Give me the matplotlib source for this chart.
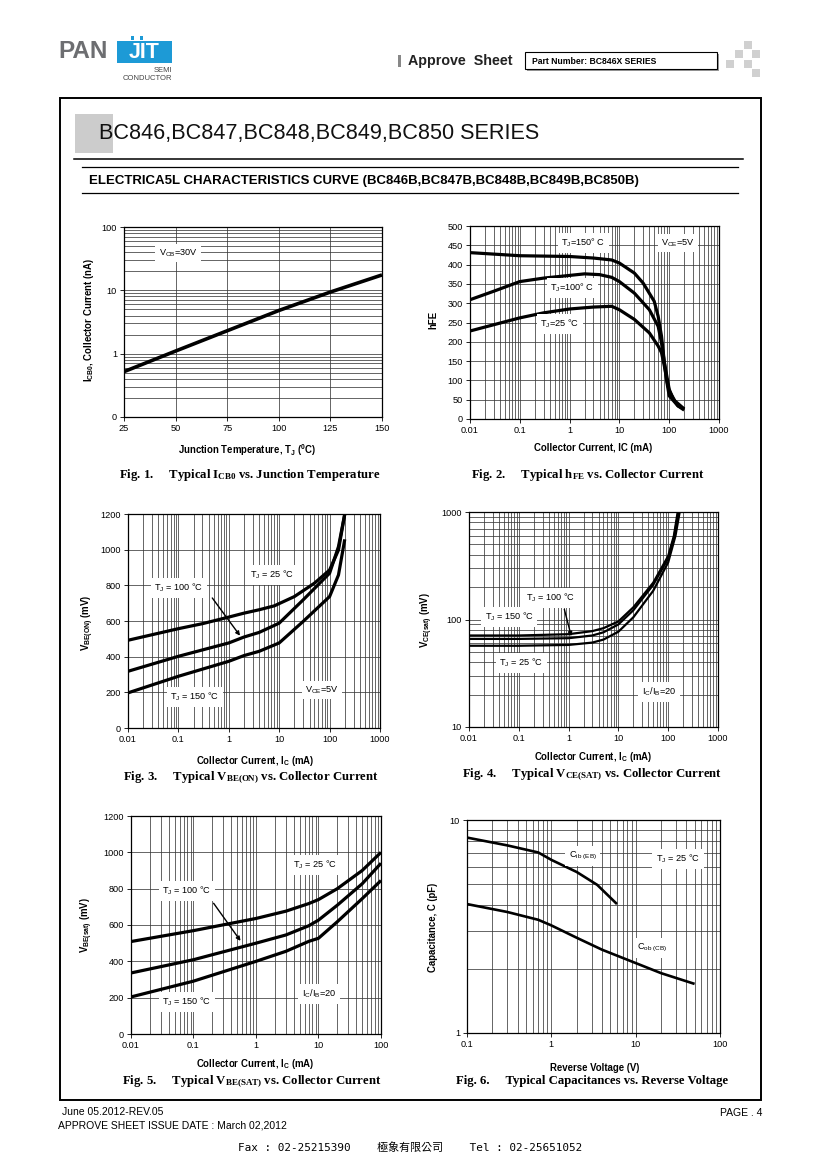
import numpy as np
import matplotlib
matplotlib.use('Agg')
import matplotlib.pyplot as plt
from matplotlib.patches import Rectangle
from matplotlib.lines import Line2D
from matplotlib.ticker import LogLocator, FixedLocator, FixedFormatter, NullFormatter

plt.rcParams['font.family'] = ['Liberation Sans', 'DejaVu Sans']
plt.rcParams['mathtext.default'] = 'regular'

# ---------------- data ----------------
# Fig 1: ICBO vs junction temperature
fig1_temp = [25, 50, 75, 100, 125, 150]
fig1_icbo = [0.52, 1.1, 2.3, 4.8, 9.4, 17.5]
fig1_xticks = [25, 50, 75, 100, 125, 150]
fig1_yticks = [0.1, 1, 10, 100]
fig1_ylabels = ['0', '1', '10', '100']

# Fig 2: hFE vs collector current
fig2_ic_150 = [0.01, 0.1, 1, 3, 7, 10, 20, 30, 50, 60, 70, 80, 100, 120, 150, 200]
fig2_hfe_150 = [431, 423, 421, 417, 412, 404, 378, 352, 305, 266, 215, 146, 77, 52, 34, 23]
fig2_ic_100 = [0.01, 0.03, 0.1, 0.3, 1, 2, 4, 7, 10, 20, 40, 60, 70, 80, 90, 100, 150, 200]
fig2_hfe_100 = [309, 331, 356, 365, 372, 376, 374, 367, 356, 326, 283, 240, 198, 146, 95, 60, 34, 26]
fig2_ic_25 = [0.01, 0.1, 0.3, 1, 3, 7, 10, 20, 40, 60, 70, 80, 90, 100, 130, 200]
fig2_hfe_25 = [228, 262, 275, 285, 290, 292, 283, 258, 223, 189, 172, 137, 99, 73, 47, 26]
fig2_yticks = [0, 50, 100, 150, 200, 250, 300, 350, 400, 450, 500]

# Fig 3: VBE(on) vs collector current
fig3_ic = [0.01, 0.1, 0.3, 1, 2, 4, 8, 20, 50, 100, 150, 200]
fig3_vbe_25 = [492, 557, 585, 622, 644, 663, 685, 737, 812, 886, 998, 1200]
fig3_ic_100 = [0.01, 0.1, 1, 2, 4, 10, 30, 100, 150, 200]
fig3_vbe_100 = [318, 402, 477, 510, 536, 588, 719, 868, 1017, 1200]
fig3_ic_150 = [0.01, 0.1, 1, 2, 4, 10, 30, 100, 150, 200]
fig3_vbe_150 = [197, 290, 374, 406, 430, 477, 598, 737, 858, 1058]
lin_ticks_1200 = [0, 200, 400, 600, 800, 1000, 1200]

# Fig 4: VCE(sat) vs collector current
fig4_ic_top = [0.01, 0.1, 1, 3, 5, 10, 20, 50, 100, 130, 155]
fig4_v_top = [71, 71, 73, 78, 83, 96, 130, 220, 390, 600, 1000]
fig4_ic_mid = [0.01, 0.1, 1, 3, 5, 10, 20, 50, 100, 130, 160]
fig4_v_mid = [66, 66, 67, 71, 76, 90, 122, 210, 370, 570, 1000]
fig4_ic_bot = [0.01, 0.1, 1, 3, 5, 10, 20, 50, 100, 140, 170]
fig4_v_bot = [57, 57, 58, 61, 65, 77, 105, 185, 340, 600, 1000]

# Fig 5: VBE(sat) vs collector current
fig5_ic = [0.01, 0.1, 1, 3, 7, 10, 20, 50, 100]
fig5_v_25 = [509, 569, 636, 676, 718, 740, 800, 900, 1000]
fig5_v_100 = [336, 409, 500, 545, 596, 627, 709, 827, 940]
fig5_v_150 = [204, 291, 400, 455, 510, 527, 618, 745, 845]

# Fig 6: capacitances vs reverse voltage
fig6_vr_ib = [0.1, 0.3, 0.7, 1, 2, 3.5, 6]
fig6_c_ib = [8.27, 7.6, 7.04, 6.5, 5.7, 4.96, 4.03]
fig6_vr_ob = [0.1, 0.3, 0.7, 1, 2, 4, 10, 20, 50]
fig6_c_ob = [4.03, 3.7, 3.4, 3.2, 2.8, 2.46, 2.13, 1.91, 1.70]

log_labels_5dec = ['0.01', '0.1', '1', '10', '100', '1000']
log_ticks_5dec = [0.01, 0.1, 1, 10, 100, 1000]

# ---------------- layout helpers ----------------
W, H = 820, 1160
fig = plt.figure(figsize=(W / 100, H / 100), dpi=100)
fig.patch.set_facecolor('white')


def fx(x):
    return x / W


def fy(y):
    return 1 - y / H


def add_ax(x0, y0, x1, y1):
    return fig.add_axes([fx(x0), fy(y1), (x1 - x0) / W, (y1 - y0) / H])


def ptext(x, y, s, **kw):
    return fig.text(fx(x), fy(y), s, **kw)


def pline(x0, x1, y0, y1, **kw):
    fig.add_artist(Line2D([fx(x0), fx(x1)], [fy(y0), fy(y1)],
                          transform=fig.transFigure, **kw))


def prect(x0, y0, x1, y1, **kw):
    r = Rectangle((fx(x0), fy(y1)), (x1 - x0) / W, (y1 - y0) / H,
                  transform=fig.transFigure, **kw)
    fig.add_artist(r)
    return r


GRID = dict(color='#3a3a3a', linewidth=0.55)


def style(ax):
    for sp in ax.spines.values():
        sp.set_linewidth(0.9)
        sp.set_color('black')
    ax.tick_params(which='major', direction='out', length=3, width=0.6,
                   labelsize=6.6, pad=2, colors='black')
    ax.tick_params(which='minor', length=0)
    ax.set_axisbelow(True)


def logx(ax, ticks, labels):
    ax.set_xscale('log')
    ax.set_xlim(ticks[0], ticks[-1])
    ax.xaxis.set_major_locator(FixedLocator(ticks))
    ax.xaxis.set_major_formatter(FixedFormatter(labels))
    ax.xaxis.set_minor_locator(LogLocator(base=10, subs=np.arange(2, 10), numticks=20))
    ax.xaxis.set_minor_formatter(NullFormatter())
    ax.grid(which='both', axis='x', **GRID)


def logy(ax, ticks, labels):
    ax.set_yscale('log')
    ax.set_ylim(ticks[0], ticks[-1])
    ax.yaxis.set_major_locator(FixedLocator(ticks))
    ax.yaxis.set_major_formatter(FixedFormatter(labels))
    ax.yaxis.set_minor_locator(LogLocator(base=10, subs=np.arange(2, 10), numticks=20))
    ax.yaxis.set_minor_formatter(NullFormatter())
    ax.grid(which='both', axis='y', **GRID)


def lab(ax, fxp, fyp, s, fs=6.6):
    ax.text(fxp, fyp, s, transform=ax.transAxes, ha='center', va='center',
            fontsize=fs, zorder=6,
            bbox=dict(facecolor='white', edgecolor='none', pad=2.5))


def curve(ax, x, y, lw=2.3):
    ax.plot(x, y, color='black', lw=lw, zorder=4, solid_joinstyle='round',
            solid_capstyle='butt')


AXL = dict(fontsize=6.9, fontweight='bold', ha='center', va='center')
CAP = dict(fontsize=9.2, fontweight='bold', ha='center', va='center',
           family=['Liberation Serif', 'DejaVu Serif'])

# ---------------- header ----------------
ptext(58, 52, 'PAN', fontsize=17.5, fontweight='bold', color='#6d6e71',
      ha='left', va='center')
prect(117, 41, 172, 63, facecolor='#1d9ad6', edgecolor='none')
ptext(144.5, 53, 'JIT', fontsize=15.5, fontweight='bold', color='white',
      ha='center', va='center')
prect(131, 36.5, 134, 39.5, facecolor='#1d9ad6', edgecolor='none')
prect(140, 36.5, 143, 39.5, facecolor='#1d9ad6', edgecolor='none')
ptext(172, 70, 'SEMI', fontsize=5.5, color='#444444', ha='right', va='center')
ptext(172, 79, 'CONDUCTOR', fontsize=5.5, color='#444444', ha='right', va='center')

prect(398, 55, 401, 67, facecolor='#888888', edgecolor='none')
ptext(408, 61, 'Approve  Sheet', fontsize=10.3, fontweight='bold', color='#222222',
      ha='left', va='center')
prect(527, 54, 719, 71, facecolor='#9a9a9a', edgecolor='none')
prect(525, 52, 717, 69, facecolor='white', edgecolor='black', linewidth=0.8)
ptext(532, 61, 'Part Number: BC846X SERIES', fontsize=6.2, fontweight='bold',
      family=['Liberation Sans Narrow', 'Liberation Sans'], ha='left', va='center')

for (cx, cy) in [(744, 41), (735, 50), (752, 50), (726, 60), (744, 60), (752, 69)]:
    prect(cx, cy, cx + 8, cy + 8, facecolor='#d0d0d0', edgecolor='none')

# main frame
prect(60, 97.5, 761, 1100, facecolor='none', edgecolor='black', linewidth=1.4)

prect(75, 114, 112.5, 152.5, facecolor='#cccccc', edgecolor='none')
ptext(99, 134, 'BC846,BC847,BC848,BC849,BC850 SERIES', fontsize=15.6,
      color='#111111', ha='left', va='center')
pline(74, 743, 159.3, 159.3, color='black', lw=1.1)
pline(82, 738, 166.7, 166.7, color='black', lw=0.9)
ptext(89, 181, 'ELECTRICA5L CHARACTERISTICS CURVE (BC846B,BC847B,BC848B,BC849B,BC850B)',
      fontsize=9.5, fontweight='bold', ha='left', va='center',
      family=['Liberation Sans Narrow', 'Liberation Sans'])
pline(82, 738, 193.3, 193.3, color='black', lw=0.9)

# ---------------- Fig 1 ----------------
ax1 = add_ax(124, 227, 382, 417)
style(ax1)
ax1.set_xlim(25, 150)
ax1.set_xticks(fig1_xticks)
logy(ax1, fig1_yticks, fig1_ylabels)
ax1.grid(which='major', axis='x', **GRID)
curve(ax1, fig1_temp, fig1_icbo, lw=2.6)
lab(ax1, 0.209, 0.863, 'V$_{CB}$=30V')
ptext(89, 320, 'I$_{CB0}$, Collector Current (nA)', rotation=90, **AXL)
ptext(247, 450, 'Junction Temperature, T$_J$ ($^0$C)', **AXL)
ptext(250, 475, 'Fig. 1.     Typical I$_{CB0}$ vs. Junction Temperature', **CAP)

# ---------------- Fig 2 ----------------
ax2 = add_ax(470, 226, 719, 419)
style(ax2)
logx(ax2, log_ticks_5dec, log_labels_5dec)
ax2.set_ylim(0, 500)
ax2.set_yticks(fig2_yticks)
ax2.grid(which='major', axis='y', **GRID)
curve(ax2, fig2_ic_150, fig2_hfe_150)
curve(ax2, fig2_ic_100, fig2_hfe_100)
curve(ax2, fig2_ic_25, fig2_hfe_25)
lab(ax2, 0.454, 0.912, 'T$_J$=150° C')
lab(ax2, 0.835, 0.912, 'V$_{CE}$=5V')
lab(ax2, 0.41, 0.679, 'T$_J$=100° C')
lab(ax2, 0.361, 0.492, 'T$_J$=25 °C')
ptext(433, 320, 'hFE', rotation=90, **AXL)
ptext(593, 448, 'Collector Current, IC (mA)', **AXL)
ptext(588, 475, 'Fig. 2.     Typical h$_{FE}$ vs. Collector Current', **CAP)

# ---------------- Fig 3 ----------------
ax3 = add_ax(128, 514, 380, 728)
style(ax3)
logx(ax3, log_ticks_5dec, log_labels_5dec)
ax3.set_ylim(0, 1200)
ax3.set_yticks(lin_ticks_1200)
ax3.grid(which='major', axis='y', **GRID)
curve(ax3, fig3_ic, fig3_vbe_25)
curve(ax3, fig3_ic_100, fig3_vbe_100)
curve(ax3, fig3_ic_150, fig3_vbe_150)
lab(ax3, 0.571, 0.715, 'T$_J$ = 25 °C')
lab(ax3, 0.202, 0.654, 'T$_J$ = 100 °C')
lab(ax3, 0.266, 0.145, 'T$_J$ = 150 °C')
lab(ax3, 0.77, 0.178, 'V$_{CE}$=5V')
ax3.annotate('', xy=(1.8, 505), xytext=(0.328, 0.618), textcoords='axes fraction',
             arrowprops=dict(arrowstyle='-|>', color='black', lw=1.0,
                             mutation_scale=6), zorder=7)
ptext(88, 623, 'V$_{BE(ON)}$ (mV)', rotation=90, **AXL)
ptext(255, 761, 'Collector Current, I$_C$ (mA)', **AXL)
ptext(251, 778, 'Fig. 3.     Typical V$_{BE(ON)}$ vs. Collector Current', **CAP)

# ---------------- Fig 4 ----------------
ax4 = add_ax(469, 512, 718, 727)
style(ax4)
logx(ax4, log_ticks_5dec, log_labels_5dec)
logy(ax4, [10, 100, 1000], ['10', '100', '1000'])
curve(ax4, fig4_ic_top, fig4_v_top, lw=1.6)
curve(ax4, fig4_ic_mid, fig4_v_mid, lw=1.6)
curve(ax4, fig4_ic_bot, fig4_v_bot, lw=1.6)
lab(ax4, 0.329, 0.60, 'T$_J$ = 100 °C')
lab(ax4, 0.161, 0.512, 'T$_J$ = 150 °C')
lab(ax4, 0.209, 0.298, 'T$_J$ = 25 °C')
lab(ax4, 0.763, 0.163, 'I$_C$/I$_B$=20')
ax4.annotate('', xy=(1.17, 66), xytext=(0.38, 0.56), textcoords='axes fraction',
             arrowprops=dict(arrowstyle='-|>', color='black', lw=1.0,
                             mutation_scale=6), zorder=7)
ptext(427, 620, 'V$_{CE(sat)}$ (mV)', rotation=90, **AXL)
ptext(593, 757, 'Collector Current, I$_C$ (mA)', **AXL)
ptext(592, 775, 'Fig. 4.     Typical V$_{CE(SAT)}$ vs. Collector Current', **CAP)

# ---------------- Fig 5 ----------------
ax5 = add_ax(131, 816, 381, 1034)
style(ax5)
logx(ax5, log_ticks_5dec[:5], log_labels_5dec[:5])
ax5.set_ylim(0, 1200)
ax5.set_yticks(lin_ticks_1200)
ax5.grid(which='major', axis='y', **GRID)
curve(ax5, fig5_ic, fig5_v_25)
curve(ax5, fig5_ic, fig5_v_100)
curve(ax5, fig5_ic, fig5_v_150)
lab(ax5, 0.736, 0.775, 'T$_J$ = 25 °C')
lab(ax5, 0.224, 0.656, 'T$_J$ = 100 °C')
lab(ax5, 0.224, 0.147, 'T$_J$ = 150 °C')
lab(ax5, 0.752, 0.183, 'I$_C$/I$_B$=20')
ax5.annotate('', xy=(0.6, 500), xytext=(0.324, 0.61), textcoords='axes fraction',
             arrowprops=dict(arrowstyle='-|>', color='black', lw=1.0,
                             mutation_scale=6), zorder=7)
ptext(87, 925, 'V$_{BE(sat)}$ (mV)', rotation=90, **AXL)
ptext(255, 1064, 'Collector Current, I$_C$ (mA)', **AXL)
ptext(252, 1082, 'Fig. 5.     Typical V$_{BE(SAT)}$ vs. Collector Current', **CAP)

# ---------------- Fig 6 ----------------
ax6 = add_ax(467, 820, 720, 1033)
style(ax6)
logx(ax6, [0.1, 1, 10, 100], ['0.1', '1', '10', '100'])
logy(ax6, [1, 10], ['1', '10'])
curve(ax6, fig6_vr_ib, fig6_c_ib, lw=1.9)
curve(ax6, fig6_vr_ob, fig6_c_ob, lw=1.9)
lab(ax6, 0.458, 0.831, 'C$_{ib\\ (EB)}$')
lab(ax6, 0.834, 0.817, 'T$_J$ = 25 °C')
lab(ax6, 0.731, 0.399, 'C$_{ob\\ (CB)}$')
ptext(433, 927, 'Capacitance, C (pF)', rotation=90, **AXL)
ptext(595, 1068, 'Reverse Voltage (V)', **AXL)
ptext(592, 1081, 'Fig. 6.     Typical Capacitances vs. Reverse Voltage', **CAP)

# ---------------- footer ----------------
FOOT = dict(fontsize=7.5, family=['Liberation Sans Narrow', 'Liberation Sans'], va='center')
ptext(62, 1112, 'June 05.2012-REV.05', ha='left', **FOOT)
ptext(58, 1126, 'APPROVE SHEET ISSUE DATE : March 02,2012', ha='left', **FOOT)
ptext(762, 1113, 'PAGE . 4', ha='right', **FOOT)
ptext(410, 1147, 'Fax : 02-25215390    極象有限公司    Tel : 02-25651052',
      fontsize=7.9, family=['DejaVu Sans Mono', 'Noto Sans CJK TC'],
      ha='center', va='center')

fig.savefig('out.png', dpi=100)
